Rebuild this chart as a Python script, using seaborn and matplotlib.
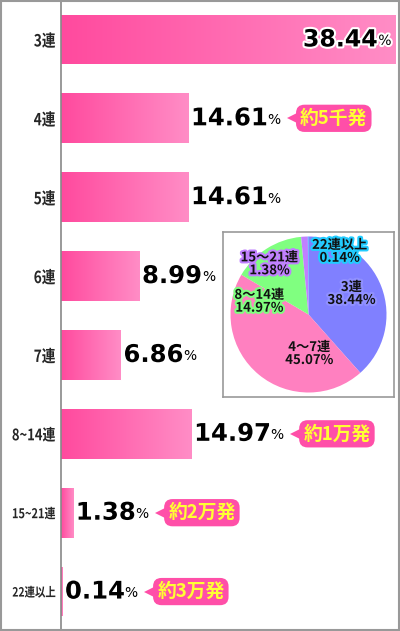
import numpy as np
import pandas as pd
import matplotlib
matplotlib.use("Agg")
import matplotlib.pyplot as plt
import matplotlib.patheffects as pe
from matplotlib.colors import LinearSegmentedColormap
from matplotlib.patches import Rectangle
from matplotlib.transforms import Affine2D
import seaborn as sns

# bar chart data
categories = ["3連", "4連", "5連", "6連", "7連", "8~14連", "15~21連", "22連以上"]
shares = [38.44, 14.61, 14.61, 8.99, 6.86, 14.97, 1.38, 0.14]
callouts = {"4連": "約5千発", "8~14連": "約1万発", "15~21連": "約2万発", "22連以上": "約3万発"}

# pie data
pie_labels = ["3連", "4～7連", "8～14連", "15～21連", "22連以上"]
pie_values = [38.44, 45.07, 14.97, 1.38, 0.14]
pie_colors = ["#8080FF", "#FF80C0", "#80FF80", "#C080FF", "#33AAFF"]
pie_outline = ["#9090FF", "#FF80C0", "#80FF80", "#C080FF", "#22CCFF"]
# label positions in pie data units (layout only)
pie_text_pos = [(0.55, 0.27), (0.01, -0.50), (-0.63, 0.17), (-0.50, 0.65), (0.40, 0.81)]

JP = ["Noto Sans CJK JP", "DejaVu Sans"]
NUM = ["DejaVu Sans"]


class Squeeze(pe.AbstractPathEffect):
    """squeezes text horizontally about a fixed x (display coords)"""

    def __init__(self, sx, x_anchor):
        super().__init__()
        self.sx = sx
        self.x_anchor = x_anchor

    def draw_path(self, renderer, gc, tpath, affine, rgbFace=None):
        t = affine + Affine2D().translate(-self.x_anchor, 0).scale(self.sx, 1).translate(self.x_anchor, 0)
        renderer.draw_path(gc, tpath, t, rgbFace)


sns.set_style("white")
plt.rcParams["font.family"] = JP

W, H = 400, 631
fig = plt.figure(figsize=(W / 100, H / 100), dpi=100)
ax = fig.add_axes([61 / W, 0, (397 - 61) / W, 1])

df = pd.DataFrame({"cat": categories, "share": shares})
sns.barplot(data=df, x="share", y="cat", orient="h", color="#FF5FA8",
            width=0.63, ax=ax, saturation=1)
ax.set_xlim(0, 38.6)
ax.set_ylim(7.5, -0.5)
ax.set_xlabel("")
ax.set_ylabel("")
ax.set_xticks([])
ax.tick_params(axis="y", length=0, pad=4)
for s in ["top", "right", "bottom"]:
    ax.spines[s].set_visible(False)
ax.spines["left"].set_color("#888888")
ax.spines["left"].set_linewidth(1.2)

# gradient fill on each bar
cmap = LinearSegmentedColormap.from_list("pinkgrad", ["#FF4A9E", "#FF8DC6"])
grad = np.linspace(0, 1, 256).reshape(1, -1)
for p in list(ax.patches):
    x0, y0 = p.get_x(), p.get_y()
    w, h = p.get_width(), p.get_height()
    if w <= 0:
        continue
    im = ax.imshow(grad, cmap=cmap, aspect="auto", extent=[x0, x0 + w, y0 + h, y0],
                   zorder=p.get_zorder() + 0.1)
    im.set_clip_path(p)
ax.set_xlim(0, 38.6)
ax.set_ylim(7.5, -0.5)

fig.canvas.draw()
renderer = fig.canvas.get_renderer()

# tick labels: tall condensed look, long ones shrunk to fit left of the axis
for lab in ax.get_yticklabels():
    lab.set_fontweight("bold")
    lab.set_fontsize(12)
fig.canvas.draw()
for lab in ax.get_yticklabels():
    wpx = lab.get_window_extent(renderer).width
    if wpx > 53:
        lab.set_fontsize(12 * 53 / wpx)
fig.canvas.draw()
for lab in ax.get_yticklabels():
    ext = lab.get_window_extent(renderer)
    sx = min(0.82, 51 / ext.width)
    lab.set_path_effects([Squeeze(sx, ext.x1)])

outline = [pe.withStroke(linewidth=3, foreground="white")]
inv = ax.transData.inverted()

for i, (cat, val) in enumerate(zip(categories, shares)):
    if i == 0:
        # label inside the longest bar
        pct = ax.annotate("%", xy=(val, i), xytext=(-3, -1), textcoords="offset points",
                          ha="right", va="center", fontsize=10, family=NUM,
                          color="black", path_effects=outline, zorder=5)
        fig.canvas.draw()
        bb = pct.get_window_extent(renderer)
        xd = inv.transform((bb.x0, 0))[0]
        ax.annotate(f"{val:.2f}", xy=(xd, i), xytext=(-0.5, 0), textcoords="offset points",
                    ha="right", va="center", fontsize=17, fontweight="bold", family=NUM,
                    color="black", path_effects=outline, zorder=5)
        continue
    num = ax.annotate(f"{val:.2f}", xy=(val, i), xytext=(2, 0), textcoords="offset points",
                      ha="left", va="center", fontsize=17.5, fontweight="bold", family=NUM,
                      color="black", path_effects=outline, zorder=5)
    fig.canvas.draw()
    bb = num.get_window_extent(renderer)
    xd = inv.transform((bb.x1, 0))[0]
    pct = ax.annotate("%", xy=(xd, i), xytext=(0, -1), textcoords="offset points",
                      ha="left", va="center", fontsize=10, family=NUM, color="black", zorder=5)
    if cat in callouts:
        fig.canvas.draw()
        bb2 = pct.get_window_extent(renderer)
        xc = inv.transform((bb2.x1, 0))[0]
        box = ax.annotate(callouts[cat], xy=(xc, i), xytext=(14, 0), textcoords="offset points",
                          ha="left", va="center", fontsize=13.5, fontweight="bold",
                          color="#FFFF33", family=JP, zorder=7,
                          bbox=dict(boxstyle="round,pad=0.22,rounding_size=0.45",
                                    fc="#FF4FA8", ec="none"))
        fig.canvas.draw()
        bp = box.get_bbox_patch().get_window_extent(renderer)
        xm = inv.transform((bp.x0 - 3, 0))[0]
        ax.plot([xm], [i], marker="<", markersize=9, color="#FF4FA8",
                markeredgewidth=0, zorder=6, clip_on=False)

# inset pie
pax = fig.add_axes([223 / W, (H - 397) / H, 171 / W, 165 / H])
pax.pie(pie_values, colors=pie_colors, startangle=90, counterclock=False,
        wedgeprops=dict(linewidth=0))
pax.set_aspect("auto")
pax.set_xlim(-171 / 2 / 78, 171 / 2 / 78)
pax.set_ylim(-165 / 2 / 78, 165 / 2 / 78)
pax.set_frame_on(True)
for s in pax.spines.values():
    s.set_visible(True)
    s.set_color("#999999")
    s.set_linewidth(1.2)
for lab, val, col, (tx, ty) in zip(pie_labels, pie_values, pie_outline, pie_text_pos):
    pax.text(tx, ty, f"{lab}\n{val:.2f}%", ha="center", va="center", fontsize=9.5,
             fontweight="bold", color="#111111", linespacing=0.9, family=JP,
             path_effects=[pe.withStroke(linewidth=3, foreground=col)])

# outer border
fig.patches.append(Rectangle((0.002, 0.002), 0.996, 0.996, transform=fig.transFigure,
                             fill=False, ec="#999999", lw=1.5))

fig.savefig("out.png", dpi=100)
